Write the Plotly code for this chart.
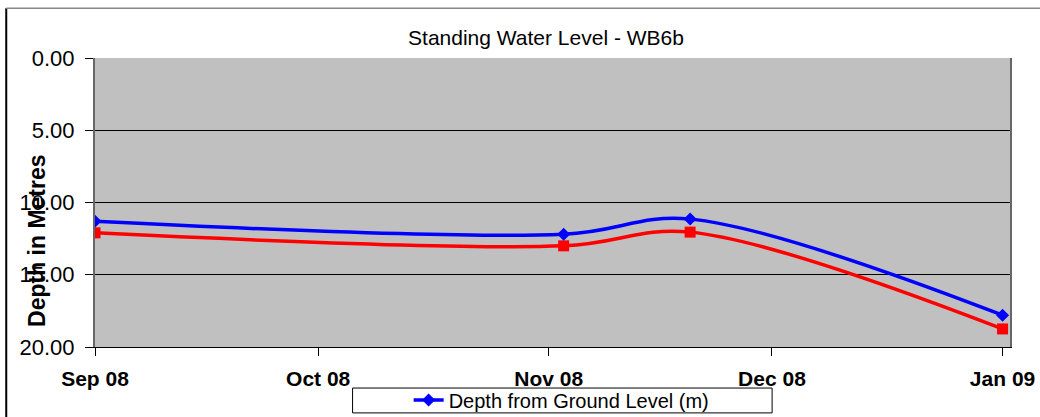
import plotly.graph_objects as go

# readings (depth below ground level, metres)
dates = ["2008-09-01", "2008-11-03", "2008-11-20", "2009-01-01"]
depth_ground = [11.3, 12.2, 11.15, 17.8]
depth_second = [12.1, 13.0, 12.05, 18.75]

FONT = "Arial, Liberation Sans, sans-serif"

fig = go.Figure()
fig.add_scatter(
    x=dates, y=depth_second, mode="lines+markers", line_shape="spline",
    line=dict(color="#ff0000", width=3.5),
    marker=dict(symbol="square", size=11, color="#ff0000"),
    showlegend=False,
)
fig.add_scatter(
    x=dates, y=depth_ground, mode="lines+markers", line_shape="spline",
    name="Depth from Ground Level (m)",
    line=dict(color="#0000ff", width=3.5),
    marker=dict(symbol="diamond", size=10, color="#0000ff"),
)

fig.update_layout(
    width=1040, height=417,
    margin=dict(l=95, r=30, t=58, b=70, autoexpand=False),
    paper_bgcolor="white",
    plot_bgcolor="#c0c0c0",
    font=dict(family=FONT, color="black"),
    title=dict(text="Standing Water Level - WB6b", x=0.525, xanchor="center",
               y=0.91, yanchor="middle", font=dict(size=21)),
    legend=dict(orientation="h", x=0.51, xanchor="center", y=-0.183, yanchor="middle",
                borderwidth=0, font=dict(size=20), bgcolor="rgba(0,0,0,0)"),
    xaxis=dict(
        type="date", range=["2008-09-01", "2009-01-02"],
        tickformat="%b %y", dtick="M1", tick0="2008-09-01",
        ticks="outside", ticklen=8, tickcolor="black", ticklabelstandoff=5,
        showgrid=False, showline=True, linecolor="black", linewidth=1,
        tickfont=dict(size=21, weight="bold"), mirror=False,
    ),
    yaxis=dict(
        range=[20, 0], tickvals=[0, 5, 10, 15, 20], tickformat=".2f",
        ticks="outside", ticklen=8, tickcolor="black", ticklabelstandoff=6,
        showgrid=True, gridcolor="black", gridwidth=1,
        showline=True, linecolor="#666666", linewidth=2, mirror=True,
        tickfont=dict(size=22), zeroline=False,
    ),
    annotations=[dict(
        text="<b>Depth in Metres</b>", xref="paper", yref="paper",
        x=-0.0635, y=0.37, textangle=-90, showarrow=False,
        font=dict(size=23), xanchor="center", yanchor="middle",
    )],
    shapes=[
        # outer chart frame
        dict(type="line", xref="paper", yref="paper", x0=-0.097, x1=-0.097, y0=-0.3, y1=1.172,
             line=dict(color="black", width=2)),
        dict(type="line", xref="paper", yref="paper", x0=-0.097, x1=1.1, y0=1.172, y1=1.172,
             line=dict(color="#888888", width=1.5)),
        # legend box
        dict(type="rect", xref="paper", yref="paper", x0=0.2815, x1=0.740, y0=-0.228, y1=-0.142,
             line=dict(color="black", width=1), fillcolor="rgba(0,0,0,0)"),
    ],
)

fig.write_html("out.html", config={"displayModeBar": False},
               post_script="document.body.style.margin='0';")
